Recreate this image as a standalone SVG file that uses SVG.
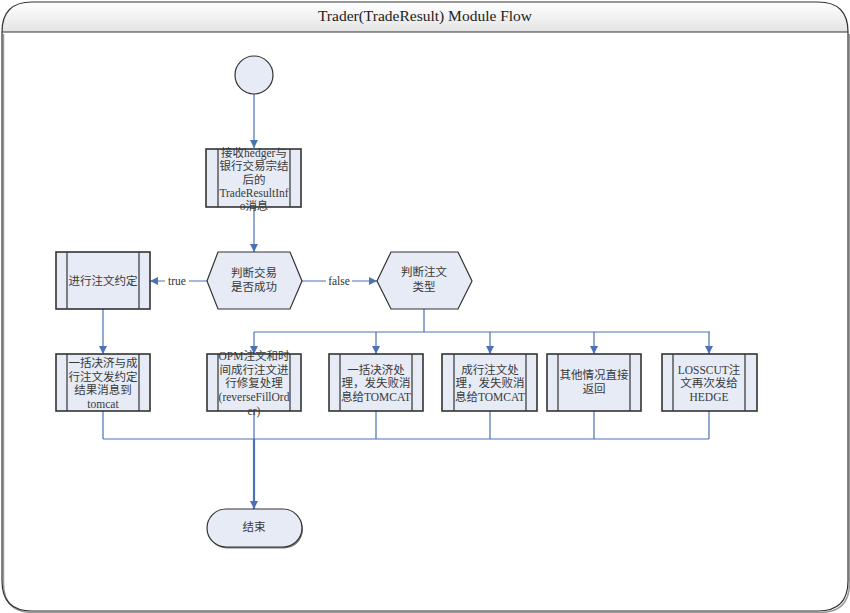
<svg xmlns="http://www.w3.org/2000/svg" width="850" height="613" viewBox="0 0 850 613">
<defs>
<linearGradient id="hdr" x1="0" y1="0" x2="0" y2="1">
<stop offset="0" stop-color="#ffffff"/>
<stop offset="1" stop-color="#e4e4e4"/>
</linearGradient>
<marker id="arr" viewBox="0 0 10 10" refX="10" refY="5" markerWidth="9" markerHeight="8" markerUnits="userSpaceOnUse" orient="auto">
<path d="M0,0 L10,5 L0,10 z" fill="#4a72b4"/>
</marker>
</defs>
<style>
.box{fill:#e6ebf6;stroke:#333;stroke-width:1.6}
.inner{stroke:#333;stroke-width:1.2;fill:none}
.t{font-family:"Liberation Serif","Noto Sans CJK SC",serif;font-size:11.5px;fill:#3a3a3a;text-anchor:middle}
.c{fill:none;stroke:#4a72b4;stroke-width:1.2}
.lbl{font-family:"Liberation Serif","Noto Sans CJK SC",serif;font-size:11.5px;fill:#333;text-anchor:middle}
</style>
<rect width="850" height="613" fill="#ffffff"/>
<g id="frame">
<path d="M3.5,34 L3.5,583 Q3.5,612.5 33,612.5 L820,612.5 Q849.5,612.5 849.5,583 L849.5,34" fill="none" stroke="#999" stroke-width="1.5"/>
<path d="M2,32 Q2,2 32,2 L818,2 Q848,2 848,32 Z" fill="url(#hdr)"/>
<path d="M2,32 L2,581 Q2,611 32,611 L818,611 Q848,611 848,581 L848,32 Q848,2 818,2 L32,2 Q2,2 2,32 Z" fill="none" stroke="#333" stroke-width="1.2"/>
<line x1="2" y1="32" x2="848" y2="32" stroke="#333" stroke-width="1.2"/>
<text x="425" y="21" font-family="Liberation Serif, serif" font-size="15.5" fill="#222" text-anchor="middle">Trader(TradeResult) Module Flow</text>
</g>
<g id="connectors">
<line class="c" x1="254" y1="94" x2="254" y2="148" marker-end="url(#arr)"/>
<line class="c" x1="254" y1="207" x2="254" y2="252" marker-end="url(#arr)"/>
<line class="c" x1="207" y1="281" x2="150" y2="281" marker-end="url(#arr)"/>
<line class="c" x1="302" y1="281" x2="377" y2="281" marker-end="url(#arr)"/>
<line class="c" x1="103" y1="309" x2="103" y2="354" marker-end="url(#arr)"/>
<polyline class="c" points="424,309 424,332"/>
<line class="c" x1="254" y1="332" x2="710" y2="332"/>
<line class="c" x1="254" y1="332" x2="254" y2="354" marker-end="url(#arr)"/>
<line class="c" x1="376" y1="332" x2="376" y2="354" marker-end="url(#arr)"/>
<line class="c" x1="490" y1="332" x2="490" y2="354" marker-end="url(#arr)"/>
<line class="c" x1="594" y1="332" x2="594" y2="354" marker-end="url(#arr)"/>
<line class="c" x1="709" y1="332" x2="709" y2="354" marker-end="url(#arr)"/>
<line class="c" x1="103" y1="411" x2="103" y2="439"/>
<line class="c" x1="254" y1="411" x2="254" y2="439"/>
<line class="c" x1="376" y1="411" x2="376" y2="439"/>
<line class="c" x1="490" y1="411" x2="490" y2="439"/>
<line class="c" x1="594" y1="411" x2="594" y2="439"/>
<line class="c" x1="709" y1="411" x2="709" y2="439"/>
<line class="c" x1="103" y1="439" x2="709" y2="439"/>
<line x1="254" y1="439" x2="254" y2="509" stroke="#4a72b4" stroke-width="2.2" marker-end="url(#arr)"/>
<rect x="165" y="274" width="24" height="13" fill="#fff"/>
<text class="lbl" x="177" y="285">true</text>
<rect x="326" y="274" width="26" height="13" fill="#fff"/>
<text class="lbl" x="339" y="285">false</text>
</g>
<g id="start">
<circle cx="254" cy="75" r="19" fill="#e6ebf6" stroke="#333" stroke-width="1.2"/>
</g>
<g id="recv">
<rect class="box" x="206" y="149" width="95" height="58"/>
<line class="inner" x1="218" y1="149" x2="218" y2="207"/>
<line class="inner" x1="290" y1="149" x2="290" y2="207"/>
<text class="t" x="254" y="157">接收hedger与</text>
<text class="t" x="254" y="170">银行交易宗结</text>
<text class="t" x="254" y="184">后的</text>
<text class="t" x="254" y="197">TradeResultInf</text>
<text class="t" x="254" y="210">o消息</text>
</g>
<g id="judge1">
<polygon points="207,281 218,252 290,252 302,281 290,309 218,309" fill="#e6ebf6" stroke="#333" stroke-width="1.2"/>
<text class="t" x="254" y="277">判断交易</text>
<text class="t" x="254" y="291">是否成功</text>
</g>
<g id="judge2">
<polygon points="377,281 391,252 458,252 472,281 458,309 391,309" fill="#e6ebf6" stroke="#333" stroke-width="1.2"/>
<text class="t" x="424" y="276">判断注文</text>
<text class="t" x="424" y="291">类型</text>
</g>
<g id="agree">
<rect class="box" x="56" y="252" width="94" height="57"/>
<line class="inner" x1="67" y1="252" x2="67" y2="309"/>
<line class="inner" x1="139" y1="252" x2="139" y2="309"/>
<text class="t" x="103" y="285">进行注文约定</text>
</g>
<g id="boxA">
<rect class="box" x="56" y="354" width="94" height="57"/>
<line class="inner" x1="67" y1="354" x2="67" y2="411"/>
<line class="inner" x1="139" y1="354" x2="139" y2="411"/>
<text class="t" x="103" y="367">一括决济与成</text>
<text class="t" x="103" y="381">行注文发约定</text>
<text class="t" x="103" y="394">结果消息到</text>
<text class="t" x="103" y="408">tomcat</text>
</g>
<g id="boxB">
<rect class="box" x="207" y="354" width="94" height="57"/>
<line class="inner" x1="218" y1="354" x2="218" y2="411"/>
<line class="inner" x1="290" y1="354" x2="290" y2="411"/>
<text class="t" x="254" y="360">OPM注文和时</text>
<text class="t" x="254" y="374">间成行注文进</text>
<text class="t" x="254" y="387">行修复处理</text>
<text class="t" x="254" y="401">(reverseFillOrd</text>
<text class="t" x="254" y="415">er)</text>
</g>
<g id="boxC">
<rect class="box" x="329" y="354" width="94" height="57"/>
<line class="inner" x1="340" y1="354" x2="340" y2="411"/>
<line class="inner" x1="412" y1="354" x2="412" y2="411"/>
<text class="t" x="376" y="374">一括决济处</text>
<text class="t" x="376" y="387">理，发失败消</text>
<text class="t" x="376" y="401">息给TOMCAT</text>
</g>
<g id="boxD">
<rect class="box" x="442" y="354" width="95" height="57"/>
<line class="inner" x1="454" y1="354" x2="454" y2="411"/>
<line class="inner" x1="526" y1="354" x2="526" y2="411"/>
<text class="t" x="490" y="374">成行注文处</text>
<text class="t" x="490" y="387">理，发失败消</text>
<text class="t" x="490" y="401">息给TOMCAT</text>
</g>
<g id="boxE">
<rect class="box" x="547" y="354" width="94" height="57"/>
<line class="inner" x1="558" y1="354" x2="558" y2="411"/>
<line class="inner" x1="630" y1="354" x2="630" y2="411"/>
<text class="t" x="594" y="379">其他情况直接</text>
<text class="t" x="594" y="393">返回</text>
</g>
<g id="boxF">
<rect class="box" x="662" y="354" width="95" height="57"/>
<line class="inner" x1="673" y1="354" x2="673" y2="411"/>
<line class="inner" x1="745" y1="354" x2="745" y2="411"/>
<text class="t" x="709" y="374">LOSSCUT注</text>
<text class="t" x="709" y="387">文再次发给</text>
<text class="t" x="709" y="401">HEDGE</text>
</g>
<g id="end">
<rect x="208" y="510.5" width="95" height="38" rx="19" fill="#777"/>
<rect x="207" y="509" width="95" height="38" rx="19" fill="#e6ebf6" stroke="#333" stroke-width="1.2"/>
<text class="t" x="254" y="531">结束</text>
</g>
</svg>
